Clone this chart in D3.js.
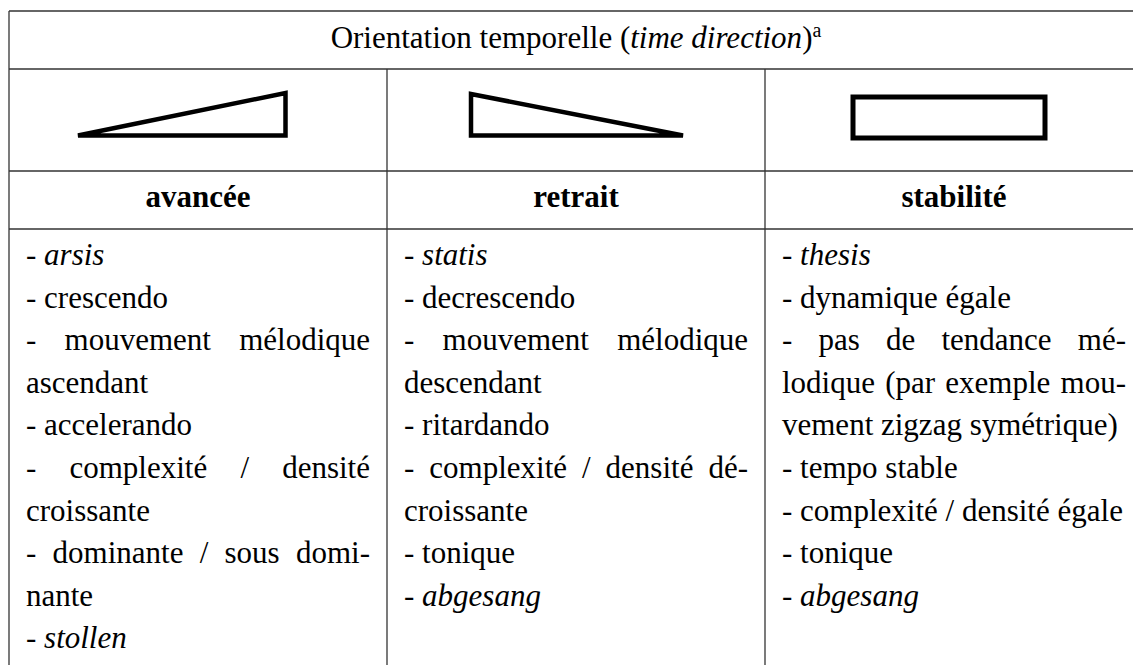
<!DOCTYPE html>
<html><head><meta charset="utf-8">
<script src="https://cdn.jsdelivr.net/npm/d3@7"></script>
</head>
<body style="margin:0">
<div style="position:absolute;left:-3000px;top:0;font-family:'Liberation Serif';font-size:30px">Oa <i>ta</i> <b>ra</b></div>
<script>
// ---- data ----
const titleMain = "Orientation temporelle (";
const titleItalic = "time direction";
const titleClose = ")";
const titleNote = "a";
const categories = ["avancée", "retrait", "stabilité"];
// shape profile: relative level at start and at end of the time span
const profileStart = [0, 1, 1];
const profileEnd = [1, 0, 1];
// items per column; each item is a paragraph made of its rendered lines
const itemsAvancee = [
  ["- arsis"],
  ["- crescendo"],
  ["- mouvement mélodique", "ascendant"],
  ["- accelerando"],
  ["- complexité / densité", "croissante"],
  ["- dominante / sous domi-", "nante"],
  ["- stollen"]
];
const itemsRetrait = [
  ["- statis"],
  ["- decrescendo"],
  ["- mouvement mélodique", "descendant"],
  ["- ritardando"],
  ["- complexité / densité dé-", "croissante"],
  ["- tonique"],
  ["- abgesang"]
];
const itemsStabilite = [
  ["- thesis"],
  ["- dynamique égale"],
  ["- pas de tendance mé-", "lodique (par exemple mou-", "vement zigzag symétrique)"],
  ["- tempo stable"],
  ["- complexité / densité égale"],
  ["- tonique"],
  ["- abgesang"]
];
const italicTerms = ["arsis", "stollen", "statis", "abgesang", "thesis"];

// ---- layout ----
const W = 1133, H = 665;
const FONT = "Liberation Serif";
const FS = 31;
const tableLeft = 9, tableRight = 1143, tableTop = 11;
const rowLines = [69, 171, 229];
const pad = 17;
const shapeInset = [69, 84, 88];
const shapeWidth = [207.5, 212, 192];
const shapeLow = [135.5, 135.5, 138];
const shapeHigh = [93, 94, 97];

const svg = d3.select("body").append("svg").attr("width", W).attr("height", H).style("display", "block");

const col = d3.scaleBand().domain(categories).range([tableLeft, tableRight]).padding(0);

// grid lines
const g = svg.append("g").attr("stroke", "#333").attr("stroke-width", 1.3).attr("fill", "none");
g.append("line").attr("x1", tableLeft).attr("x2", tableRight).attr("y1", tableTop).attr("y2", tableTop);
rowLines.forEach(y => g.append("line").attr("x1", tableLeft).attr("x2", tableRight).attr("y1", y).attr("y2", y));
g.append("line").attr("x1", tableLeft).attr("x2", tableLeft).attr("y1", tableTop).attr("y2", H + 5);
g.append("line").attr("x1", tableRight).attr("x2", tableRight).attr("y1", tableTop).attr("y2", H + 5);
categories.slice(1).forEach(c => g.append("line").attr("x1", col(c)).attr("x2", col(c)).attr("y1", rowLines[0]).attr("y2", H + 5));

// title
const title = svg.append("text").attr("x", (tableLeft + tableRight) / 2).attr("y", 48)
  .attr("text-anchor", "middle").attr("font-family", FONT).attr("font-size", FS);
title.append("tspan").text(titleMain);
title.append("tspan").attr("font-style", "italic").text(titleItalic);
title.append("tspan").text(titleClose);
title.append("tspan").attr("font-size", 20).attr("dy", -11).text(titleNote);

// shapes
categories.forEach((c, i) => {
  const x = d3.scaleLinear().domain([0, 1]).range([col(c) + shapeInset[i], col(c) + shapeInset[i] + shapeWidth[i]]);
  const y = d3.scaleLinear().domain([0, 1]).range([shapeLow[i], shapeHigh[i]]);
  const pts = [[0, 0], [1, 0], [1, profileEnd[i]], [0, profileStart[i]]];
  const uniq = pts.filter((p, k) => {
    if (k === 0) return true;
    const prev = pts[k - 1];
    if (x(p[0]) === x(prev[0]) && y(p[1]) === y(prev[1])) return false;
    if (k === pts.length - 1 && x(p[0]) === x(pts[0][0]) && y(p[1]) === y(pts[0][1])) return false;
    return true;
  });
  const line = d3.line().x(d => x(d[0])).y(d => y(d[1]));
  svg.append("path").attr("d", line(uniq) + "Z").attr("fill", "none")
    .attr("stroke", "#000").attr("stroke-width", i === 2 ? 5 : 4.5).attr("stroke-linejoin", "miter");
});

// headers
svg.selectAll("text.hdr").data(categories).join("text").attr("class", "hdr")
  .attr("x", d => col(d) + col.bandwidth() / 2).attr("y", 207)
  .attr("text-anchor", "middle").attr("font-family", FONT).attr("font-size", FS)
  .attr("font-weight", "bold").text(d => d);

// body text
const measurer = svg.append("text").attr("font-family", FONT).attr("font-size", FS).attr("visibility", "hidden");
function wordWidth(w, italic) {
  measurer.attr("font-style", italic ? "italic" : "normal").text(w);
  return measurer.node().getComputedTextLength();
}
const spaceW = FS * 0.25;

const lineY = d3.scaleLinear().domain([0, 1]).range([265, 307.6]);
const allItems = [itemsAvancee, itemsRetrait, itemsStabilite];
categories.forEach((c, ci) => {
  const x0 = col(c) + pad, x1 = col(c) + col.bandwidth() - pad;
  let li = 0;
  allItems[ci].forEach(par => {
    par.forEach((ln, k) => {
      const justify = k < par.length - 1;
      const words = ln.split(" ");
      const it = words.map(w => italicTerms.includes(w));
      const widths = words.map((w, j) => wordWidth(w, it[j]));
      const total = d3.sum(widths);
      const gap = justify && words.length > 1 ? (x1 - x0 - total) / (words.length - 1) : spaceW;
      const t = svg.append("text").attr("y", lineY(li)).attr("font-family", FONT).attr("font-size", FS);
      let cx = x0;
      words.forEach((w, j) => {
        t.append("tspan").attr("x", cx).attr("font-style", it[j] ? "italic" : null).text(w);
        cx += widths[j] + gap;
      });
      li++;
    });
  });
});
measurer.remove();
</script>
</body></html>
